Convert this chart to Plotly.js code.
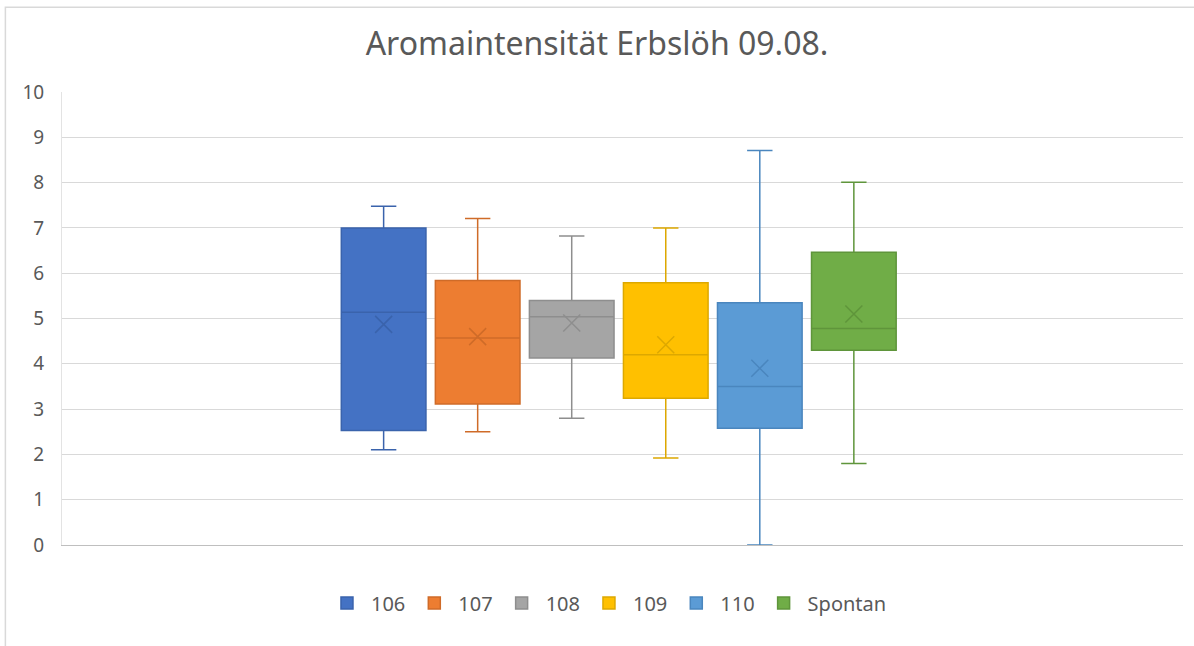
<!DOCTYPE html>
<html>
<head>
<meta charset="utf-8">
<script src="https://cdn.plot.ly/plotly-3.0.1.min.js"></script>
<style>
  html, body { margin: 0; padding: 0; background: #fff; }
  #plot { width: 1194px; height: 646px; }
</style>
</head>
<body>
<div id="plot"></div>
<script>
// series
let names = ["106", "107", "108", "109", "110", "Spontan"];
let lowerWhisker = [2.1, 2.5, 2.8, 1.92, 0, 1.8];
let q1 = [2.53, 3.11, 4.13, 3.24, 2.58, 4.3];
let medians = [5.14, 4.57, 5.04, 4.2, 3.5, 4.78];
let q3 = [7.0, 5.84, 5.4, 5.79, 5.35, 6.46];
let upperWhisker = [7.48, 7.21, 6.82, 7.0, 8.71, 8.01];
let means = [4.87, 4.6, 4.9, 4.42, 3.9, 5.1];

let fills = ["#4472C4", "#ED7D31", "#A5A5A5", "#FFC000", "#5B9BD5", "#70AD47"];
let edges = ["#3A63AC", "#CF6B28", "#8E8E8E", "#DDA800", "#4A86BE", "#5F953B"];

// box traces, one per series, placed side by side on a hidden numeric axis
let boxes = names.map((name, i) => ({
    type: "box",
    name: name,
    x: [i],
    q1: [q1[i]],
    median: [medians[i]],
    q3: [q3[i]],
    lowerfence: [lowerWhisker[i]],
    upperfence: [upperWhisker[i]],
    width: 0.9,
    whiskerwidth: 0.3,
    fillcolor: fills[i],
    line: { color: edges[i], width: 1.5 },
    hoverinfo: "y"
}));

// mean markers drawn as an "x"
let meanMarks = names.map((name, i) => ({
    type: "scatter",
    mode: "markers",
    x: [i],
    y: [means[i]],
    showlegend: false,
    hoverinfo: "y",
    marker: {
        symbol: "x-thin",
        size: 17,
        color: edges[i],
        line: { color: edges[i], width: 1.5 }
    }
}));

let data = boxes.concat(meanMarks);

let layout = {
    title: {
        text: "Aromaintensität Erbslöh 09.08.",
        font: { family: "Noto Sans", size: 32, color: "#595959" },
        x: 0.5,
        xanchor: "center",
        y: 0.932,
        yanchor: "middle"
    },
    width: 1194,
    height: 646,
    paper_bgcolor: "#ffffff",
    plot_bgcolor: "#ffffff",
    margin: { l: 62, r: 11, t: 92, b: 101, pad: 0 },
    font: { family: "Noto Sans", size: 19, color: "#595959" },
    showlegend: true,
    legend: {
        orientation: "h",
        x: 0.4866,
        xanchor: "center",
        y: -0.128,
        yanchor: "middle",
        font: { size: 20, color: "#595959" },
        itemwidth: 38
    },
    xaxis: {
        range: [-3.42, 8.5],
        showticklabels: false,
        showgrid: false,
        zeroline: false,
        showline: true,
        linecolor: "#BFBFBF",
        linewidth: 1,
        ticks: "",
        fixedrange: true
    },
    yaxis: {
        range: [0, 10],
        dtick: 1,
        tick0: 0,
        showgrid: true,
        gridcolor: "#D9D9D9",
        gridwidth: 1,
        zeroline: false,
        showline: true,
        linecolor: "#E3E3E3",
        ticks: "",
        ticklabelstandoff: 13,
        tickfont: { size: 19, color: "#595959" },
        fixedrange: true
    },
    shapes: [{
        type: "rect",
        xref: "paper",
        yref: "paper",
        x0: -0.0505,
        x1: 1.1,
        y0: -0.3,
        y1: 1.187,
        line: { color: "#D9D9D9", width: 1.5 },
        fillcolor: "rgba(0,0,0,0)",
        layer: "below"
    }]
};

Plotly.newPlot("plot", data, layout, { displayModeBar: false, staticPlot: true });
</script>
</body>
</html>
